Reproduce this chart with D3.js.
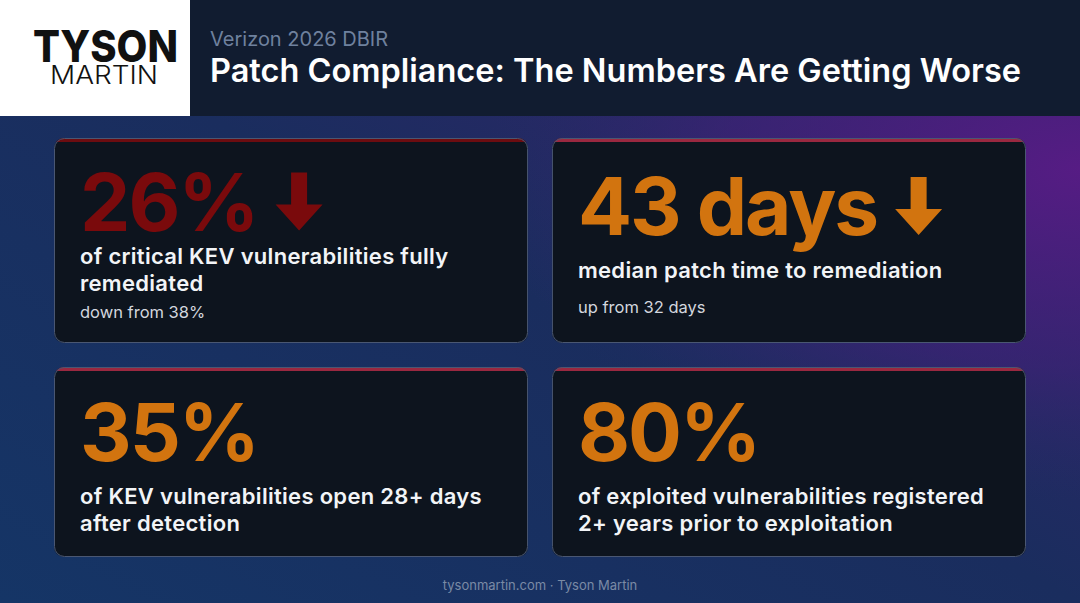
<!DOCTYPE html>
<html>
<head>
<meta charset="utf-8">
<script src="https://cdn.jsdelivr.net/npm/d3@7"></script>
<style>
  html, body { margin: 0; padding: 0; background: #142a56; }
  svg { display: block; font-family: Inter, "Noto Sans", sans-serif; }
</style>
</head>
<body>
<svg id="chart"></svg>
<script>
// chart data
const headlineValues = ["26%", "43 days", "35%", "80%"];
const descriptions = [
    ["of critical KEV vulnerabilities fully", "remediated"],
    ["median patch time to remediation"],
    ["of KEV vulnerabilities open 28+ days", "after detection"],
    ["of exploited vulnerabilities registered", "2+ years prior to exploitation"]
];
const subNotes = ["down from 38%", "up from 32 days", "", ""];
const trends = ["down", "down", "", ""];
const severity = ["critical", "warning", "warning", "warning"];
const subtitle = "Verizon 2026 DBIR";
const title = "Patch Compliance: The Numbers Are Getting Worse";
const footer = "tysonmartin.com · Tyson Martin";

const width = 1080, height = 603;
const headerH = 116;
const rows = [{ top: 138, h: 205 }, { top: 367, h: 190 }];  // card rows

const numColor = { critical: "#7a0a0c", warning: "#d2740f" };
const barColor = { critical: "#6c0c10", warning: "#9a2840" };

const svg = d3.select("#chart")
    .attr("width", width)
    .attr("height", height);

const defs = svg.append("defs");

// background gradients
const bg = defs.append("linearGradient").attr("id", "bg")
    .attr("x1", 0).attr("y1", 1).attr("x2", 1).attr("y2", 0);
bg.append("stop").attr("offset", 0).attr("stop-color", "#153566");
bg.append("stop").attr("offset", 0.5).attr("stop-color", "#1a2d5e");
bg.append("stop").attr("offset", 1).attr("stop-color", "#3a2170");

const glow = defs.append("radialGradient").attr("id", "glow")
    .attr("cx", 1).attr("cy", 0.28).attr("r", 0.55);
glow.append("stop").attr("offset", 0).attr("stop-color", "#561c84").attr("stop-opacity", 1);
glow.append("stop").attr("offset", 0.6).attr("stop-color", "#45207c").attr("stop-opacity", 0.5);
glow.append("stop").attr("offset", 1).attr("stop-color", "#2a2a6a").attr("stop-opacity", 0);

svg.append("rect").attr("width", width).attr("height", height).attr("fill", "url(#bg)");
svg.append("rect").attr("width", width).attr("height", height).attr("fill", "url(#glow)");

// header
svg.append("rect").attr("x", 0).attr("y", 0).attr("width", width).attr("height", headerH)
    .attr("fill", "#111c30");
svg.append("rect").attr("x", 0).attr("y", 0).attr("width", 190).attr("height", headerH)
    .attr("fill", "#ffffff");

svg.append("text")
    .attr("x", 33).attr("y", 62)
    .attr("textLength", 145).attr("lengthAdjust", "spacingAndGlyphs")
    .style("font-size", "44px").style("font-weight", 800)
    .attr("fill", "#111")
    .text("TYSON");
svg.append("text")
    .attr("x", 50).attr("y", 84)
    .attr("textLength", 108).attr("lengthAdjust", "spacingAndGlyphs")
    .style("font-size", "25px").style("font-weight", 300)
    .attr("fill", "#111")
    .text("MARTIN");

svg.append("text")
    .attr("x", 210).attr("y", 46)
    .style("font-size", "20px").style("font-weight", 400)
    .attr("fill", "#6f819e")
    .text(subtitle);
svg.append("text")
    .attr("x", 210).attr("y", 82)
    .style("font-size", "32.5px").style("font-weight", 600)
    .attr("fill", "#ffffff")
    .text(title);

// card grid
const x = d3.scaleBand()
    .domain([0, 1])
    .range([54, 1026])
    .paddingInner(0.048);

const cards = headlineValues.map((v, i) => ({
    value: v,
    desc: descriptions[i],
    sub: subNotes[i],
    trend: trends[i],
    sev: severity[i],
    col: i % 2,
    row: Math.floor(i / 2),
    i: i
}));

const card = svg.selectAll("g.card")
    .data(cards)
    .enter()
    .append("g")
    .attr("class", "card")
    .attr("transform", d => `translate(${x(d.col)}, ${rows[d.row].top})`);

card.each(function (d) {
    const g = d3.select(this);
    const w = x.bandwidth();
    const h = rows[d.row].h;

    defs.append("clipPath").attr("id", "clip" + d.i)
        .append("rect").attr("width", w).attr("height", h).attr("rx", 10);

    g.append("rect")
        .attr("width", w).attr("height", h).attr("rx", 10)
        .attr("fill", "#0d141e");
    g.append("rect")
        .attr("width", w).attr("height", 4)
        .attr("clip-path", `url(#clip${d.i})`)
        .attr("fill", barColor[d.sev]);
    g.append("rect")
        .attr("x", 0.5).attr("y", 0.5)
        .attr("width", w - 1).attr("height", h - 1).attr("rx", 10)
        .attr("fill", "none")
        .attr("stroke", "#4a5772").attr("stroke-width", 1);

    // vertically centre the content block (tighter when the card is full)
    const full = d.sub && d.desc.length > 1;
    const capH = 59, lineH = 27;
    const gapNum = full ? 33 : 43;
    const gapSub = full ? 27 : 35;
    let blockH = capH + gapNum + lineH * (d.desc.length - 1) + 4;
    if (d.sub) blockH += gapSub;
    const top = h / 2 + 6 - blockH / 2;
    const numY = top + capH;

    const num = g.append("text")
        .attr("x", 26).attr("y", numY)
        .style("font-size", "80px").style("font-weight", 700)
        .style("letter-spacing", "-2px")
        .attr("fill", numColor[d.sev])
        .text(d.value);

    if (d.trend === "down") {
        const nw = num.node().getComputedTextLength();
        const ax = 26 + nw + 18, aw = 47, ay = numY - 58, ah = 58, sw = 16, headH = 26;
        const p = d3.path();
        p.moveTo(ax + aw / 2 - sw / 2, ay);
        p.lineTo(ax + aw / 2 + sw / 2, ay);
        p.lineTo(ax + aw / 2 + sw / 2, ay + ah - headH);
        p.lineTo(ax + aw, ay + ah - headH);
        p.lineTo(ax + aw / 2, ay + ah);
        p.lineTo(ax, ay + ah - headH);
        p.lineTo(ax + aw / 2 - sw / 2, ay + ah - headH);
        p.closePath();
        g.append("path").attr("d", p.toString()).attr("fill", numColor[d.sev]);
    }

    g.append("g").selectAll("text")
        .data(d.desc)
        .enter()
        .append("text")
        .attr("x", 26)
        .attr("y", (t, j) => numY + gapNum + j * lineH)
        .style("font-size", "22px").style("font-weight", 600)
        .style("letter-spacing", "0.3px")
        .attr("fill", "#f2f4f7")
        .text(t => t);

    if (d.sub) {
        g.append("text")
            .attr("x", 26)
            .attr("y", numY + gapNum + lineH * (d.desc.length - 1) + gapSub)
            .style("font-size", "16.5px").style("font-weight", 400)
            .attr("fill", "#d3d7de")
            .text(d.sub);
    }
});

// footer
svg.append("text")
    .attr("x", width / 2).attr("y", 590)
    .attr("text-anchor", "middle")
    .style("font-size", "13px")
    .attr("fill", "#7a8aa5")
    .text(footer);
</script>
</body>
</html>
